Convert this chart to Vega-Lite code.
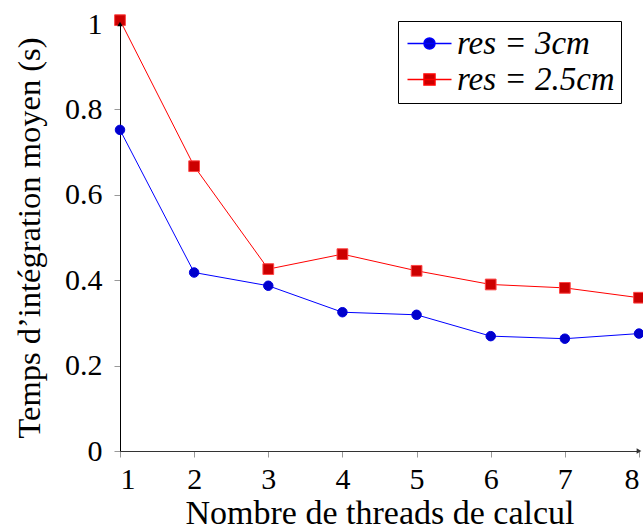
{
  "$schema": "https://vega.github.io/schema/vega-lite/v6.json",
  "width": 519,
  "height": 427,
  "autosize": {"type": "none"},
  "padding": {"left": 120, "top": 24, "right": 4, "bottom": 78},
  "background": "white",
  "config": {
    "view": {"stroke": null},
    "font": "Liberation Serif",
    "axis": {
      "grid": false,
      "domainColor": "black",
      "domainWidth": 1,
      "tickColor": "#999999",
      "tickSize": 6,
      "labelFont": "Liberation Serif",
      "labelFontSize": 30,
      "labelColor": "black",
      "titleFont": "Liberation Serif",
      "titleFontSize": 33,
      "titleFontWeight": "normal",
      "titleColor": "black"
    },
    "legend": {
      "labelFont": "Liberation Serif",
      "labelFontStyle": "italic",
      "labelFontSize": 33,
      "labelColor": "black"
    }
  },
  "datasets": {
    "main": [
      {"threads": 1, "time": 0.752, "series": "res = 3cm"},
      {"threads": 2, "time": 0.418, "series": "res = 3cm"},
      {"threads": 3, "time": 0.387, "series": "res = 3cm"},
      {"threads": 4, "time": 0.325, "series": "res = 3cm"},
      {"threads": 5, "time": 0.319, "series": "res = 3cm"},
      {"threads": 6, "time": 0.269, "series": "res = 3cm"},
      {"threads": 7, "time": 0.263, "series": "res = 3cm"},
      {"threads": 8, "time": 0.275, "series": "res = 3cm"},
      {"threads": 1, "time": 1.009, "series": "res = 2.5cm"},
      {"threads": 2, "time": 0.667, "series": "res = 2.5cm"},
      {"threads": 3, "time": 0.426, "series": "res = 2.5cm"},
      {"threads": 4, "time": 0.461, "series": "res = 2.5cm"},
      {"threads": 5, "time": 0.422, "series": "res = 2.5cm"},
      {"threads": 6, "time": 0.390, "series": "res = 2.5cm"},
      {"threads": 7, "time": 0.382, "series": "res = 2.5cm"},
      {"threads": 8, "time": 0.359, "series": "res = 2.5cm"}
    ]
  },
  "encoding": {
    "x": {
      "field": "threads",
      "type": "quantitative",
      "scale": {"domain": [1, 8], "nice": false, "zero": false},
      "axis": {
        "values": [1, 2, 3, 4, 5, 6, 7, 8],
        "title": "Nombre de threads de calcul",
        "titleFontSize": 34,
        "labelPadding": 7,
        "titlePadding": 2,
        "domainColor": "#333333"
      }
    },
    "y": {
      "field": "time",
      "type": "quantitative",
      "scale": {"domain": [0, 1], "nice": false},
      "axis": {
        "values": [0, 0.2, 0.4, 0.6, 0.8, 1],
        "format": "~g",
        "title": "Temps d’intégration moyen (s)",
        "titleFontSize": 32.5,
        "labelPadding": 12,
        "titlePadding": 18
      }
    }
  },
  "layer": [
    {
      "data": {"name": "main"},
      "transform": [{"filter": "datum.series === 'res = 3cm'"}],
      "mark": {"type": "line", "strokeWidth": 1, "color": "#0000ff"},
      "encoding": {}
    },
    {
      "data": {"name": "main"},
      "transform": [{"filter": "datum.series === 'res = 2.5cm'"}],
      "mark": {"type": "line", "strokeWidth": 1, "color": "#ff0000"},
      "encoding": {}
    },
    {
      "data": {"name": "main"},
      "transform": [{"filter": "datum.series === 'res = 3cm'"}],
      "mark": {"type": "point", "shape": "circle", "filled": true, "opacity": 1, "fill": "#0000cc", "stroke": "#0000dd", "strokeWidth": 1, "size": 90}
    },
    {
      "data": {"name": "main"},
      "transform": [{"filter": "datum.series === 'res = 2.5cm'"}],
      "mark": {"type": "point", "shape": "square", "filled": true, "opacity": 1, "fill": "#cc0000", "stroke": "#ff4444", "strokeWidth": 1, "size": 115}
    },
    {
      "data": {"name": "main"},
      "mark": {"type": "point", "filled": true, "opacity": 0, "strokeWidth": 1, "size": 484},
      "encoding": {
        "shape": {
          "field": "series",
          "type": "nominal",
          "scale": {
            "domain": ["res = 3cm", "res = 2.5cm"],
            "range": [
              "M-2,0H2M0.5,0A0.5,0.5,0,1,1,-0.5,0A0.5,0.5,0,1,1,0.5,0Z",
              "M-2,0H2M-0.5,-0.5H0.5V0.5H-0.5Z"
            ]
          },
          "legend": {
            "title": null,
            "orient": "none",
            "legendX": 278,
            "legendY": -3,
            "strokeColor": "black",
            "fillColor": "white",
            "padding": 6,
            "symbolSize": 484,
            "symbolOpacity": 1,
            "symbolOffset": 9,
            "labelOffset": 11,
            "rowPadding": 2,
            "labelFont": "Liberation Serif",
            "labelFontStyle": "italic",
            "labelFontSize": 33,
            "encode": {
              "labels": {
                "update": {
                  "font": {"value": "Liberation Serif"},
                  "fontStyle": {"value": "italic"},
                  "fontSize": {"value": 33},
                  "fill": {"value": "black"}
                }
              }
            }
          }
        },
        "fill": {
          "field": "series",
          "type": "nominal",
          "scale": {"domain": ["res = 3cm", "res = 2.5cm"], "range": ["#0000cc", "#cc0000"]},
          "legend": {
            "title": null,
            "orient": "none",
            "legendX": 278,
            "legendY": -3,
            "strokeColor": "black",
            "fillColor": "white",
            "padding": 6,
            "symbolSize": 484,
            "symbolOpacity": 1,
            "symbolOffset": 9,
            "labelOffset": 11,
            "rowPadding": 2,
            "labelFont": "Liberation Serif",
            "labelFontStyle": "italic",
            "labelFontSize": 33,
            "encode": {
              "labels": {
                "update": {
                  "font": {"value": "Liberation Serif"},
                  "fontStyle": {"value": "italic"},
                  "fontSize": {"value": 33},
                  "fill": {"value": "black"}
                }
              }
            }
          }
        },
        "stroke": {
          "field": "series",
          "type": "nominal",
          "scale": {"domain": ["res = 3cm", "res = 2.5cm"], "range": ["#0000ff", "#ff0000"]},
          "legend": {
            "title": null,
            "orient": "none",
            "legendX": 278,
            "legendY": -3,
            "strokeColor": "black",
            "fillColor": "white",
            "padding": 6,
            "symbolSize": 484,
            "symbolOpacity": 1,
            "symbolOffset": 9,
            "labelOffset": 11,
            "rowPadding": 2,
            "labelFont": "Liberation Serif",
            "labelFontStyle": "italic",
            "labelFontSize": 33,
            "encode": {
              "labels": {
                "update": {
                  "font": {"value": "Liberation Serif"},
                  "fontStyle": {"value": "italic"},
                  "fontSize": {"value": 33},
                  "fill": {"value": "black"}
                }
              }
            }
          }
        }
      }
    },
    {
      "data": {"values": [{"threads": 8, "time": 0}]},
      "mark": {"type": "point", "shape": "triangle-right", "filled": true, "color": "#333333", "size": 30, "opacity": 1}
    },
    {
      "data": {"values": [{"threads": 1, "time": 1}]},
      "mark": {"type": "point", "shape": "triangle-up", "filled": true, "color": "black", "size": 30, "opacity": 1}
    }
  ]
}
